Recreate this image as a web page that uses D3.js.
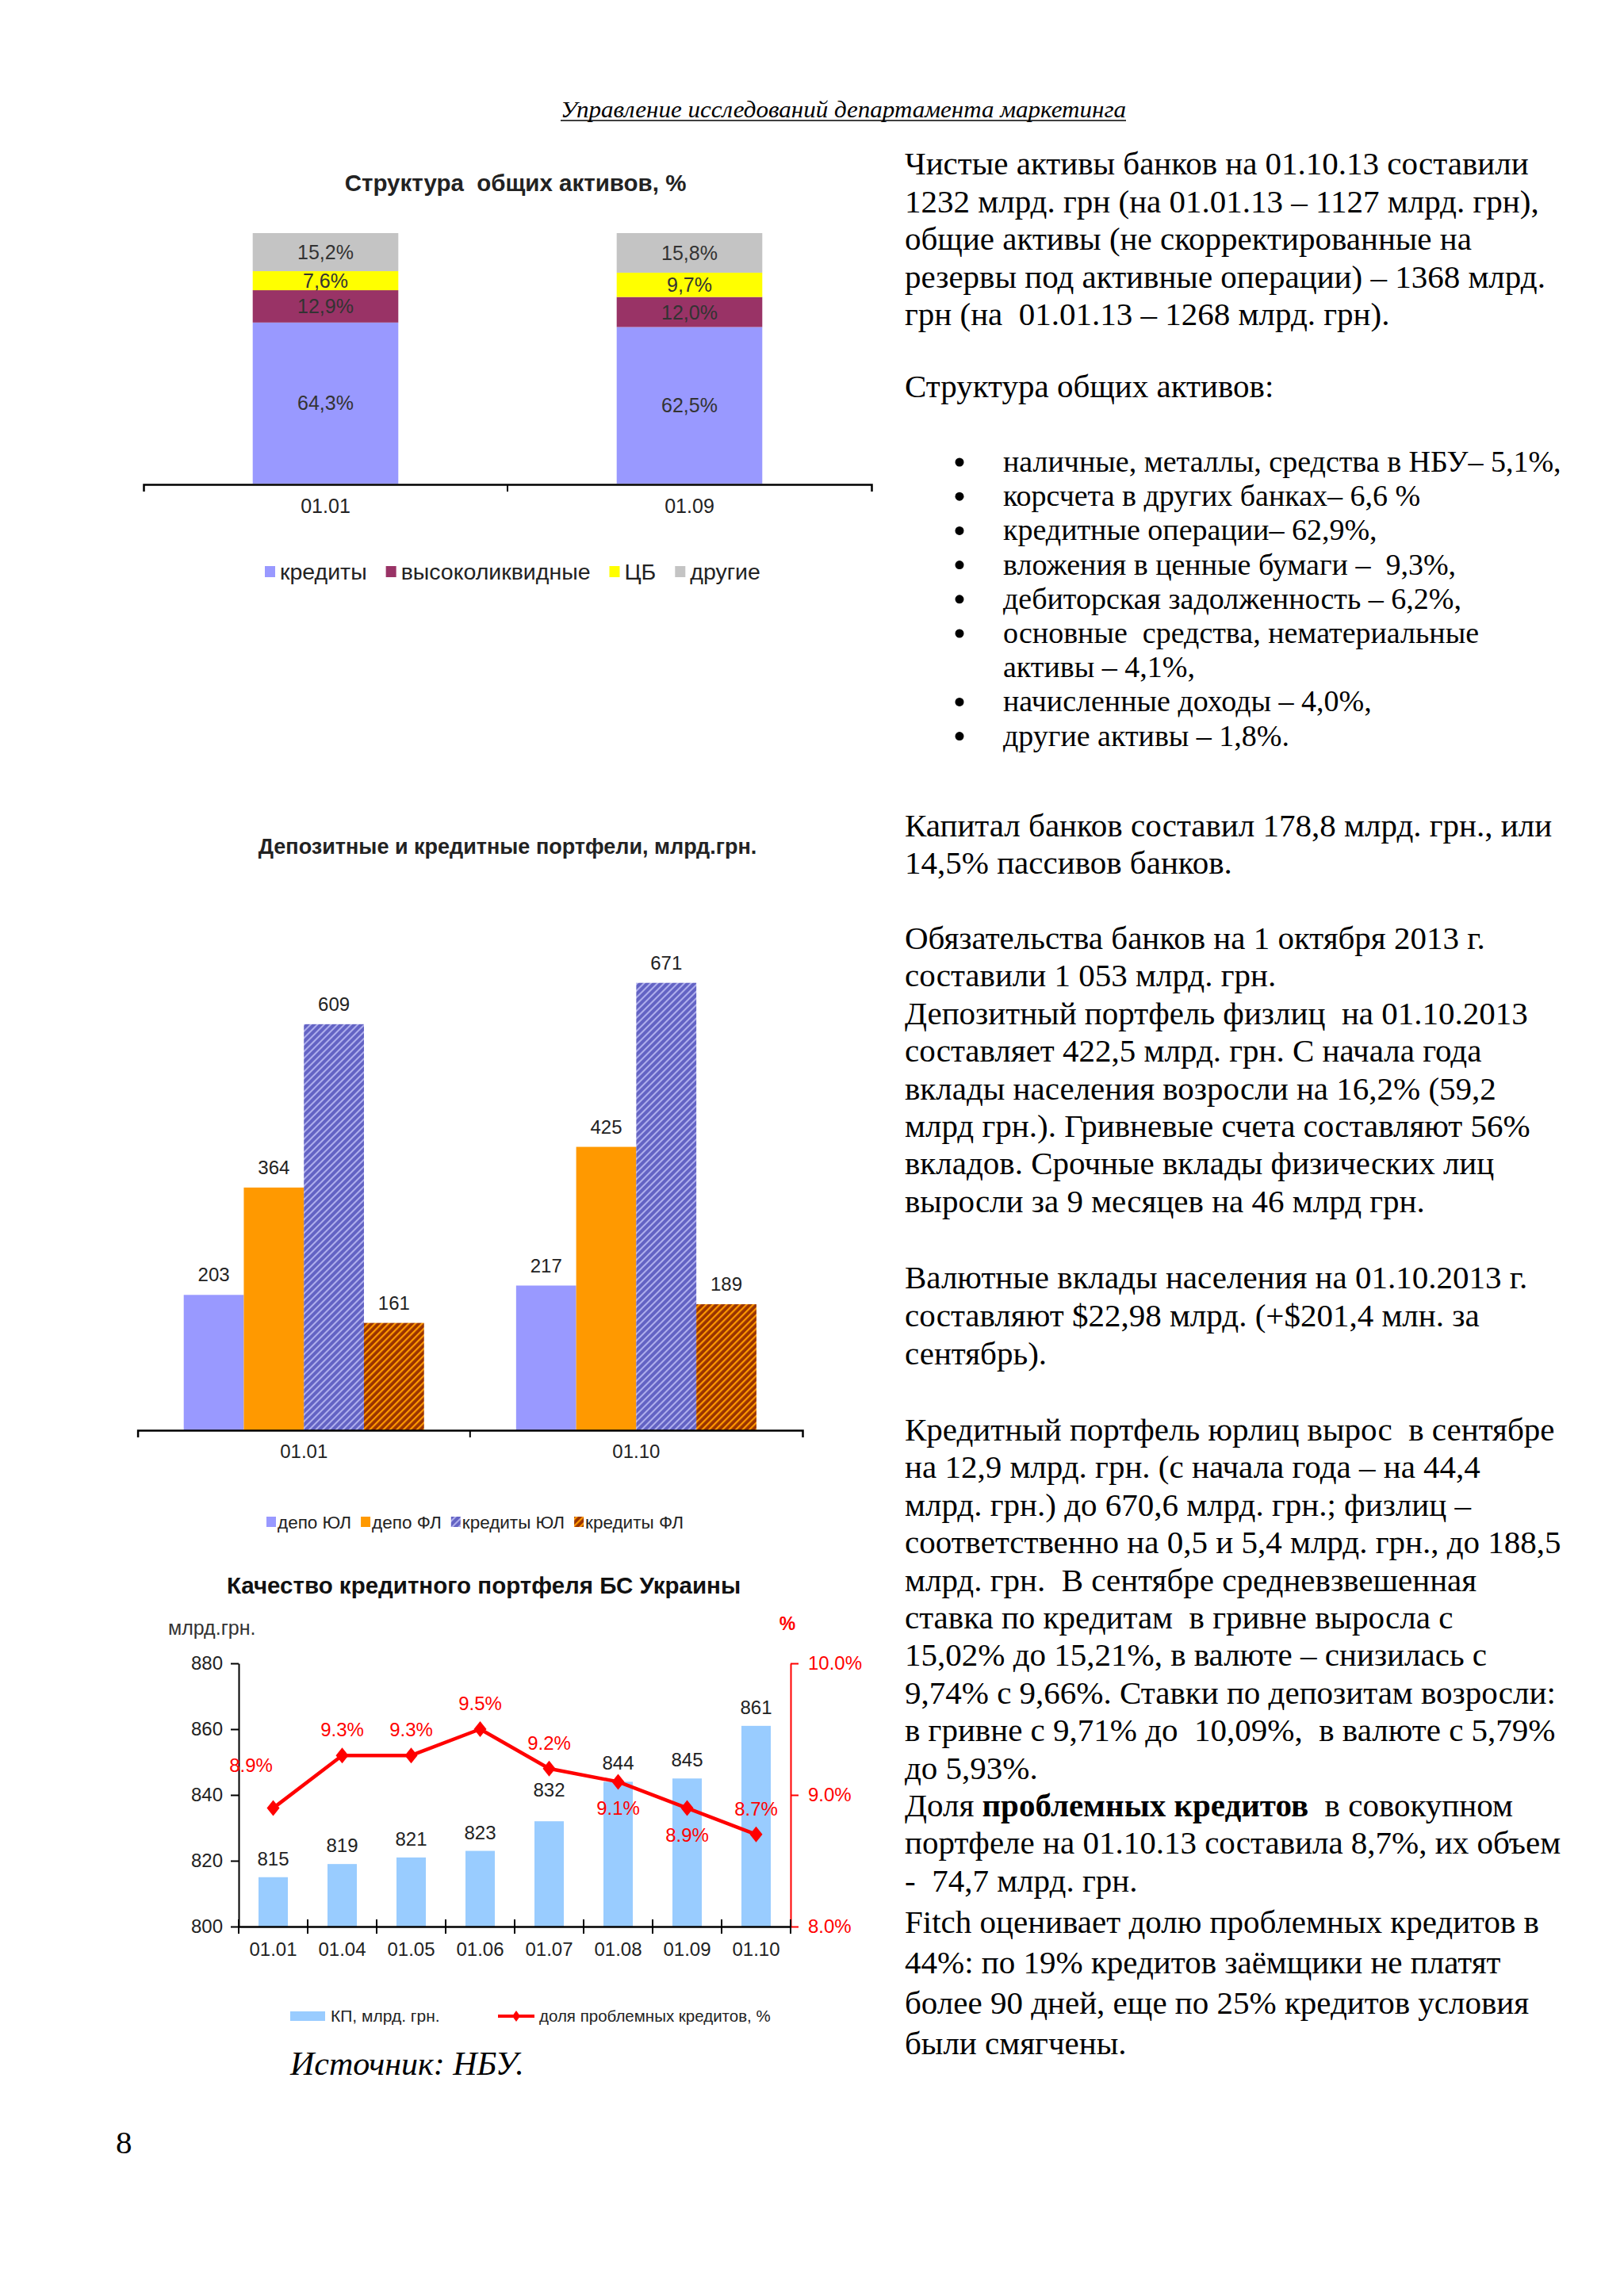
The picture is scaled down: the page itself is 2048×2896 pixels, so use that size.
<!DOCTYPE html>
<html><head><meta charset="utf-8">
<script src="https://cdn.jsdelivr.net/npm/d3@7"></script>
<style>
html,body{margin:0;padding:0;background:#fff;}
svg{display:block;}
text{white-space:pre;}
</style></head><body>
<svg id="page" width="2048" height="2896"></svg>
<script>
// ================= DATA =================
// Chart 1: structure of total assets, %
const assetDates = ["01.01", "01.09"];
const assetSeries = ["кредиты", "высоколиквидные", "ЦБ", "другие"];
const assetLoans = [64.3, 62.5];
const assetLiquid = [12.9, 12.0];
const assetCB = [7.6, 9.7];
const assetOther = [15.2, 15.8];

// Chart 2: deposit and loan portfolios, bn UAH
const portfolioDates = ["01.01", "01.10"];
const portfolioSeries = ["депо ЮЛ", "депо ФЛ", "кредиты ЮЛ", "кредиты ФЛ"];
const depoLegal = [203, 217];
const depoPersons = [364, 425];
const loansLegal = [609, 671];
const loansPersons = [161, 189];

// Chart 3: loan portfolio quality
const qualityDates = ["01.01", "01.04", "01.05", "01.06", "01.07", "01.08", "01.09", "01.10"];
const loanPortfolio = [815, 819, 821, 823, 832, 844, 845, 861];
const problemShare = [8.9, 9.3, 9.3, 9.5, 9.2, 9.1, 8.9, 8.7];
const leftTicks = [800, 820, 840, 860, 880];
const rightTicks = [8.0, 9.0, 10.0];
const qualitySeries = ["КП, млрд. грн.", "доля проблемных кредитов, %"];

// Page text
const headerText = "Управление исследований департамента маркетинга";
const para1 = [
  "Чистые активы банков на 01.10.13 составили",
  "1232 млрд. грн (на 01.01.13 – 1127 млрд. грн),",
  "общие активы (не скорректированные на",
  "резервы под активные операции) – 1368 млрд.",
  "грн (на  01.01.13 – 1268 млрд. грн)."
];
const structHead = ["Структура общих активов:"];
const bulletLines = [
  [true, "наличные, металлы, средства в НБУ– 5,1%,"],
  [true, "корсчета в других банках– 6,6 %"],
  [true, "кредитные операции– 62,9%,"],
  [true, "вложения в ценные бумаги –  9,3%,"],
  [true, "дебиторская задолженность – 6,2%,"],
  [true, "основные  средства, нематериальные"],
  [false, "активы – 4,1%,"],
  [true, "начисленные доходы – 4,0%,"],
  [true, "другие активы – 1,8%."]
];
const para2 = [
  "Капитал банков составил 178,8 млрд. грн., или",
  "14,5% пассивов банков."
];
const para3 = [
  "Обязательства банков на 1 октября 2013 г.",
  "составили 1 053 млрд. грн.",
  "Депозитный портфель физлиц  на 01.10.2013",
  "составляет 422,5 млрд. грн. С начала года",
  "вклады населения возросли на 16,2% (59,2",
  "млрд грн.). Гривневые счета составляют 56%",
  "вкладов. Срочные вклады физических лиц",
  "выросли за 9 месяцев на 46 млрд грн."
];
const para4 = [
  "Валютные вклады населения на 01.10.2013 г.",
  "составляют $22,98 млрд. (+$201,4 млн. за",
  "сентябрь)."
];
const para5 = [
  "Кредитный портфель юрлиц вырос  в сентябре",
  "на 12,9 млрд. грн. (с начала года – на 44,4",
  "млрд. грн.) до 670,6 млрд. грн.; физлиц –",
  "соответственно на 0,5 и 5,4 млрд. грн., до 188,5",
  "млрд. грн.  В сентябре средневзвешенная",
  "ставка по кредитам  в гривне выросла с",
  "15,02% до 15,21%, в валюте – снизилась с",
  "9,74% с 9,66%. Ставки по депозитам возросли:",
  "в гривне с 9,71% до  10,09%,  в валюте с 5,79%",
  "до 5,93%.",
  "Доля **проблемных кредитов**  в совокупном",
  "портфеле на 01.10.13 составила 8,7%, их объем",
  "-  74,7 млрд. грн."
];
const para6 = [
  "Fitch оценивает долю проблемных кредитов в",
  "44%: по 19% кредитов заёмщики не платят",
  "более 90 дней, еще по 25% кредитов условия",
  "были смягчены."
];
const sourceText = "Источник: НБУ.";
const pageNumber = "8";

// ================= DRAWING =================
const svg = d3.select("#page");
const sans = "'Liberation Sans', Arial, sans-serif";
const serif = "'Liberation Serif', 'Times New Roman', serif";
svg.append("rect").attr("width", 2048).attr("height", 2896).attr("fill", "#fff");
const defs = svg.append("defs");

function hatch(id, bg, fg, w) {
  const p = defs.append("pattern").attr("id", id)
    .attr("patternUnits", "userSpaceOnUse").attr("width", 6).attr("height", 6)
    .attr("patternTransform", "rotate(45)");
  p.append("rect").attr("width", 6).attr("height", 6).attr("fill", bg);
  p.append("line").attr("x1", 1).attr("y1", 0).attr("x2", 1).attr("y2", 6)
    .attr("stroke", fg).attr("stroke-width", w);
}
hatch("hatchBlue", "#6363c4", "#d0d0ff", 1.4);
hatch("hatchBrown", "#993300", "#ff9900", 2.4);

// ---- Header ----
svg.append("text").attr("x", 707).attr("y", 148)
  .attr("font-family", serif).attr("font-style", "italic").attr("font-size", 30)
  .attr("textLength", 713).attr("lengthAdjust", "spacingAndGlyphs")
  .attr("fill", "#000").text(headerText);
svg.append("line").attr("x1", 707).attr("x2", 1420).attr("y1", 152).attr("y2", 152)
  .attr("stroke", "#000").attr("stroke-width", 1.5);

// ---- Chart 1 ----
(function () {
  const g = svg.append("g");
  const colors = ["#9999FF", "#993366", "#FFFF00", "#C4C4C4"];
  const table = assetDates.map((d, i) => ({
    date: d, "кредиты": assetLoans[i], "высоколиквидные": assetLiquid[i],
    "ЦБ": assetCB[i], "другие": assetOther[i]
  }));
  const stacked = d3.stack().keys(assetSeries)(table);
  const x = d3.scaleBand().domain(assetDates).range([181, 1099]).paddingInner(0.6).paddingOuter(0.3);
  const y = d3.scaleLinear().domain([0, 100]).range([610, 294]);

  g.append("text").attr("x", 650).attr("y", 241).attr("text-anchor", "middle")
    .attr("font-family", sans).attr("font-weight", "bold").attr("font-size", 29.5)
    .attr("fill", "#222").text("Структура  общих активов, %");

  const layers = g.selectAll("g.layer").data(stacked).join("g")
    .attr("fill", (d, i) => colors[i]);
  layers.selectAll("rect").data(d => d).join("rect")
    .attr("x", d => x(d.data.date)).attr("width", x.bandwidth())
    .attr("y", d => y(d[1])).attr("height", d => y(d[0]) - y(d[1]));
  const fmt = v => d3.format(".1f")(v).replace(".", ",") + "%";
  stacked.forEach(layer => {
    g.selectAll(null).data(layer).join("text")
      .attr("x", d => x(d.data.date) + x.bandwidth() / 2)
      .attr("y", d => (y(d[0]) + y(d[1])) / 2 + 9)
      .attr("text-anchor", "middle").attr("font-family", sans).attr("font-size", 25)
      .attr("fill", "#333").text(d => fmt(d[1] - d[0]));
  });

  const ax = g.append("g").attr("transform", "translate(0,611)")
    .call(d3.axisBottom(x).tickSizeInner(0).tickSizeOuter(9).tickPadding(18));
  ax.select(".domain").attr("stroke", "#000").attr("stroke-width", 2.5);
  ax.selectAll("text").attr("font-family", sans).attr("font-size", 25).attr("fill", "#222");
  const mid = (x(assetDates[0]) + x.bandwidth() + x(assetDates[1])) / 2;
  ax.append("line").attr("x1", mid).attr("x2", mid).attr("y1", 0).attr("y2", 9)
    .attr("stroke", "#000").attr("stroke-width", 2);

  // legend
  let cx = 334;
  assetSeries.forEach((s, i) => {
    g.append("rect").attr("x", cx).attr("y", 714).attr("width", 13).attr("height", 14).attr("fill", colors[i]);
    const t = g.append("text").attr("x", cx + 19).attr("y", 731).attr("font-family", sans)
      .attr("font-size", 28.5).attr("fill", "#222").text(s);
    cx += 19 + t.node().getComputedTextLength() + 24;
  });
})();

// ---- Chart 2 ----
(function () {
  const g = svg.append("g");
  const fills = ["#9999FF", "#FF9900", "url(#hatchBlue)", "url(#hatchBrown)"];
  const series = [depoLegal, depoPersons, loansLegal, loansPersons];
  const x0 = d3.scaleBand().domain(portfolioDates).range([173.6, 1012]).paddingInner(0.277).paddingOuter(0.1386);
  const x1 = d3.scaleBand().domain(portfolioSeries).range([0, x0.bandwidth()]);
  const y = d3.scaleLinear().domain([0, 800]).range([1804, 1131.2]);

  g.append("text").attr("x", 640).attr("y", 1077).attr("text-anchor", "middle")
    .attr("font-family", sans).attr("font-weight", "bold").attr("font-size", 27)
    .attr("fill", "#222").text("Депозитные и кредитные портфели, млрд.грн.");

  const groups = g.selectAll("g.grp").data(portfolioDates).join("g")
    .attr("transform", d => `translate(${x0(d)},0)`);
  groups.each(function (date, di) {
    const gg = d3.select(this);
    portfolioSeries.forEach((s, si) => {
      const v = series[si][di];
      gg.append("rect").attr("x", x1(s)).attr("width", x1.bandwidth())
        .attr("y", y(v)).attr("height", y(0) - y(v)).attr("fill", fills[si]);
      gg.append("text").attr("x", x1(s) + x1.bandwidth() / 2).attr("y", y(v) - 17)
        .attr("text-anchor", "middle").attr("font-family", sans).attr("font-size", 24)
        .attr("fill", "#222").text(v);
    });
  });

  const ax = g.append("g").attr("transform", "translate(0,1804)")
    .call(d3.axisBottom(x0).tickSizeInner(0).tickSizeOuter(9).tickPadding(18));
  ax.select(".domain").attr("stroke", "#000").attr("stroke-width", 2.5);
  ax.selectAll("text").attr("font-family", sans).attr("font-size", 24).attr("fill", "#222");
  const mid = (x0.range()[0] + x0.range()[1]) / 2;
  ax.append("line").attr("x1", mid).attr("x2", mid).attr("y1", 0).attr("y2", 9)
    .attr("stroke", "#000").attr("stroke-width", 2);

  let cx = 336;
  portfolioSeries.forEach((s, i) => {
    g.append("rect").attr("x", cx).attr("y", 1913).attr("width", 12).attr("height", 13).attr("fill", fills[i]);
    const t = g.append("text").attr("x", cx + 14).attr("y", 1928).attr("font-family", sans)
      .attr("font-size", 22.5).attr("fill", "#222").text(s);
    cx += 14 + t.node().getComputedTextLength() + 12;
  });
})();

// ---- Chart 3 ----
(function () {
  const g = svg.append("g");
  const red = "#FF0000";
  const x = d3.scaleBand().domain(qualityDates).range([301, 997]).paddingInner(0.575).paddingOuter(0.2875);
  const yL = d3.scaleLinear().domain([800, 880]).range([2430, 2098]);
  const yR = d3.scaleLinear().domain([8, 10]).range([2430, 2098]);

  g.append("text").attr("x", 610).attr("y", 2010).attr("text-anchor", "middle")
    .attr("font-family", sans).attr("font-weight", "bold").attr("font-size", 29.5)
    .attr("fill", "#111").text("Качество кредитного портфеля БС Украины");
  g.append("text").attr("x", 212).attr("y", 2062).attr("font-family", sans)
    .attr("font-size", 25).attr("fill", "#333").text("млрд.грн.");
  g.append("text").attr("x", 993).attr("y", 2056).attr("text-anchor", "middle").attr("font-family", sans)
    .attr("font-size", 23).attr("font-weight", "bold").attr("fill", red).text("%");

  // bars
  g.selectAll("rect.kp").data(loanPortfolio).join("rect")
    .attr("x", (d, i) => x(qualityDates[i])).attr("width", x.bandwidth())
    .attr("y", d => yL(d)).attr("height", d => yL(800) - yL(d)).attr("fill", "#99CCFF");
  const barLabelNudge = { 4: -16 };
  g.selectAll("text.kp").data(loanPortfolio).join("text")
    .attr("x", (d, i) => x(qualityDates[i]) + x.bandwidth() / 2)
    .attr("y", (d, i) => yL(d) - 15 + (barLabelNudge[i] || 0))
    .attr("text-anchor", "middle").attr("font-family", sans).attr("font-size", 24)
    .attr("fill", "#222").text(d => d);

  // axes
  const axL = g.append("g").attr("transform", "translate(301,0)")
    .call(d3.axisLeft(yL).tickValues(leftTicks).tickSizeInner(10).tickSizeOuter(0).tickPadding(10));
  axL.selectAll("line,path").attr("stroke", "#000").attr("stroke-width", 2);
  axL.selectAll("text").attr("font-family", sans).attr("font-size", 24).attr("fill", "#222");

  const axR = g.append("g").attr("transform", "translate(997,0)")
    .call(d3.axisRight(yR).tickValues(rightTicks).tickFormat(d => d.toFixed(1) + "%")
      .tickSizeInner(10).tickSizeOuter(0).tickPadding(12));
  axR.selectAll("line,path").attr("stroke", red).attr("stroke-width", 2);
  axR.selectAll("text").attr("font-family", sans).attr("font-size", 24).attr("fill", red);

  const axB = g.append("g").attr("transform", "translate(0,2430)")
    .call(d3.axisBottom(x).tickSizeInner(0).tickSizeOuter(0).tickPadding(20));
  axB.select(".domain").attr("stroke", "#000").attr("stroke-width", 2.5);
  axB.selectAll("text").attr("font-family", sans).attr("font-size", 24).attr("fill", "#222");
  const bounds = qualityDates.map(d => x(d) - x.step() * x.paddingInner() / 2);
  bounds.push(x.range()[1]);
  axB.selectAll("line.bt").data(bounds).join("line").attr("class", "bt")
    .attr("x1", d => d).attr("x2", d => d).attr("y1", -9).attr("y2", 9)
    .attr("stroke", "#000").attr("stroke-width", 2);

  // line
  const cxs = qualityDates.map(d => x(d) + x.bandwidth() / 2);
  const line = d3.line().x((d, i) => cxs[i]).y(d => yR(d));
  g.append("path").datum(problemShare).attr("d", line).attr("fill", "none")
    .attr("stroke", red).attr("stroke-width", 4.5).attr("stroke-linejoin", "round");
  g.selectAll("path.mk").data(problemShare).join("path")
    .attr("d", (d, i) => { const px = cxs[i], py = yR(d); return `M${px},${py - 10}L${px + 8},${py}L${px},${py + 10}L${px - 8},${py}Z`; })
    .attr("fill", red);
  const placement = ["upleft", "above", "above", "above", "above", "below", "below", "above"];
  g.selectAll("text.ps").data(problemShare).join("text")
    .attr("x", (d, i) => cxs[i] + (placement[i] === "upleft" ? -28 : 0))
    .attr("y", (d, i) => yR(d) + (placement[i] === "below" ? 42 : placement[i] === "upleft" ? -46 : -24))
    .attr("text-anchor", "middle").attr("font-family", sans).attr("font-size", 24)
    .attr("fill", red).text(d => d.toFixed(1) + "%");

  // legend
  g.append("rect").attr("x", 366).attr("y", 2537).attr("width", 44).attr("height", 12).attr("fill", "#99CCFF");
  g.append("text").attr("x", 417).attr("y", 2550).attr("font-family", sans).attr("font-size", 21)
    .attr("fill", "#222").text(qualitySeries[0]);
  g.append("line").attr("x1", 628).attr("x2", 674).attr("y1", 2543).attr("y2", 2543)
    .attr("stroke", red).attr("stroke-width", 4);
  g.append("path").attr("d", "M651,2536L656,2543L651,2550L646,2543Z").attr("fill", red);
  g.append("text").attr("x", 680).attr("y", 2550).attr("font-family", sans).attr("font-size", 20.5)
    .attr("fill", "#222").text(qualitySeries[1]);
})();

// ---- Source and page number ----
svg.append("text").attr("x", 366).attr("y", 2617).attr("font-family", serif).attr("font-style", "italic")
  .attr("font-size", 42).attr("fill", "#000").text(sourceText);
svg.append("text").attr("x", 146).attr("y", 2716).attr("font-family", serif)
  .attr("font-size", 41).attr("fill", "#000").text(pageNumber);

// ---- Right column text ----
const bodySize = 41;
const bulletSize = 38;
function block(lines, x, y0, lh) {
  lines.forEach((ln, i) => {
    const t = svg.append("text").attr("x", x).attr("y", y0 + i * lh)
      .attr("font-family", serif).attr("font-size", bodySize).attr("fill", "#000");
    ln.split("**").forEach((seg, k) => {
      t.append("tspan").attr("font-weight", k % 2 ? "bold" : "normal").text(seg);
    });
  });
}
block(para1, 1141, 220, 47.5);
block(structHead, 1141, 501, 47.5);
bulletLines.forEach((b, i) => {
  const yy = 595 + i * 43.2;
  if (b[0]) svg.append("circle").attr("cx", 1210).attr("cy", yy - 12).attr("r", 5.5).attr("fill", "#000");
  svg.append("text").attr("x", 1265).attr("y", yy).attr("font-family", serif)
    .attr("font-size", bulletSize).text(b[1]);
});
block(para2, 1141, 1055, 46.5);
block(para3, 1141, 1197, 47.4);
block(para4, 1141, 1625, 48);
block(para5, 1141, 1817, 47.4);
block(para6, 1141, 2438, 51.1);
</script>
</body></html>
